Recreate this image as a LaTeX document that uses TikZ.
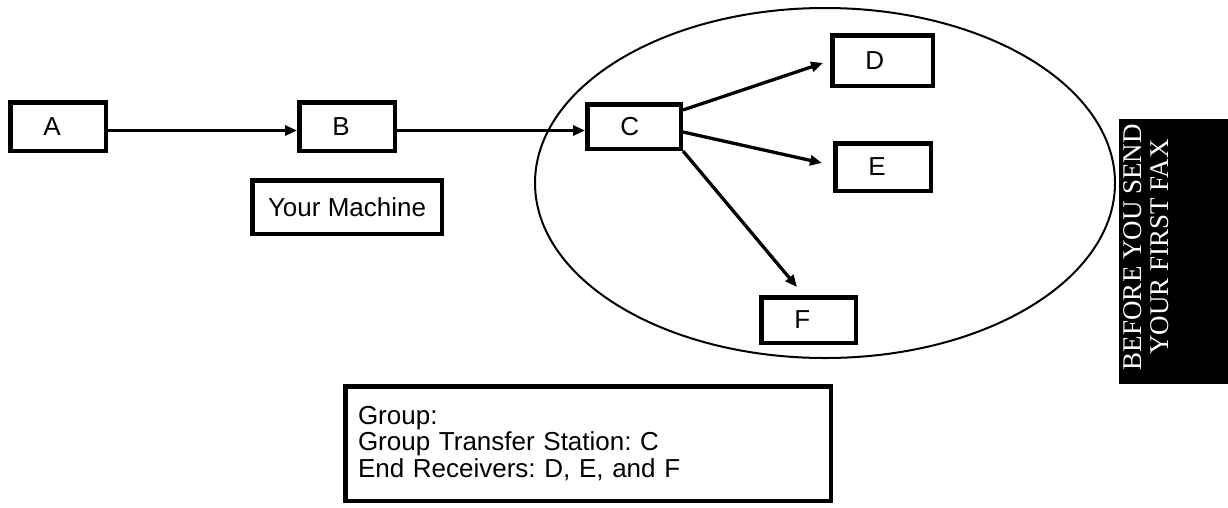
\documentclass[tikz,border=0pt]{standalone}
\usepackage{fontspec}
\setmainfont{Liberation Sans}
\newfontfamily\tabfont{Liberation Serif}
\usetikzlibrary{arrows.meta,shapes.geometric}
\frenchspacing

\begin{document}
\begin{tikzpicture}[x=1pt, y=-1pt,
	every node/.style={font=\fontsize{26}{26.3}\selectfont},
	station/.style={draw, line width=4.5pt, fill=white, inner xsep=33pt, inner ysep=0pt, align=left},
	notebox/.style={draw, line width=4.5pt, fill=white, align=left},
	link/.style={line width=3.3pt, -{Triangle[length=12pt, width=10pt]}}]
	\useasboundingbox (0,0) rectangle (1228,507);
	\node[draw, ellipse, line width=2pt, inner sep=0pt, minimum width=580pt, minimum height=350pt] (group) at (825,183) {};
	\foreach \n/\x/\y/\tw/\h in {A/58/126.5/29.5/48.5, B/347/126.5/29.5/48.5, C/634/126.5/27.5/44.5,
		D/882.5/60.5/34.5/50.5, E/883/167/29.5/47.5, F/808.5/320/28.5/45.5} {
		\node[station, text width=\tw pt, minimum height=\h pt] (\n) at (\x,\y) {\n};
	}
	\node[notebox, anchor=west, inner xsep=15.75pt, minimum height=53.5pt] (mine) at (250,207) {Your Machine};
	\node[notebox, text width=460pt, inner xsep=12.75pt, minimum height=114.5pt] (legend) at (588,443.5) {Group:\\Group Transfer Station: C\\End Receivers: D, E, and F};
	\draw[link] ([yshift=-4]A.east) -- ([yshift=-4]B.west);
	\draw[link] ([yshift=-4]B.east) -- ([yshift=-4]C.west);
	\draw[link] ([yshift=-8]C.north east) -- ([xshift=-7, yshift=-2.5]D.west);
	\draw[link] ([yshift=-5.5]C.east) -- ([xshift=-11, yshift=4]E.west);
	\draw[link] (C.south east) -- ([xshift=-11.5, yshift=8]F.north);
	% side tab
	\node[fill=black, inner sep=0pt, outer sep=0pt, minimum width=109pt, minimum height=265pt] (tab) at (1173.5,251.5) {};
	\node[text=white, rotate=90, align=center, inner sep=0pt, font=\tabfont\fontsize{27}{27}\selectfont] (tabtext) at (1146.5,247) {BEFORE YOU SEND\\YOUR FIRST FAX};
\end{tikzpicture}
\end{document}
